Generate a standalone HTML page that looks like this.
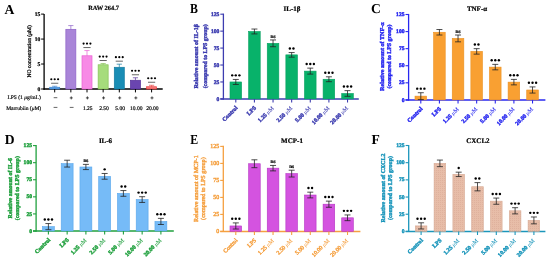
<!DOCTYPE html>
<html><head><meta charset="utf-8"><style>
html,body{margin:0;padding:0;background:#fff;}
body{width:550px;height:262px;overflow:hidden;}
svg{display:block;font-family:"Liberation Serif", serif;text-rendering:geometricPrecision;will-change:transform;filter:blur(0.25px);}
</style></head><body>
<svg width="550" height="262" viewBox="0 0 550 262">
<defs><pattern id="pf" width="2" height="2" patternUnits="userSpaceOnUse"><rect width="2" height="2" fill="#e7bda8"/><rect width="1" height="1" fill="#dfb19d"/></pattern></defs>
<rect width="550" height="262" fill="#fff"/>
<text x="4.50" y="14.10" font-size="13.6" font-weight="bold" fill="#000" text-anchor="start">A</text>
<text x="103.60" y="9.70" font-size="6.4" font-weight="bold" fill="#000" text-anchor="middle" stroke="#000" stroke-width="0.17">RAW 264.7</text>
<line x1="44.10" y1="14.10" x2="44.10" y2="89.70" stroke="#000" stroke-width="1.3" stroke-linecap="butt"/>
<line x1="43.50" y1="89.00" x2="162.70" y2="89.00" stroke="#000" stroke-width="1.4" stroke-linecap="butt"/>
<line x1="41.10" y1="89.00" x2="44.10" y2="89.00" stroke="#000" stroke-width="1.0" stroke-linecap="butt"/>
<text x="40.30" y="91.30" font-size="5.6" font-weight="bold" fill="#000" text-anchor="end" stroke="#000" stroke-width="0.21">0</text>
<line x1="41.10" y1="64.03" x2="44.10" y2="64.03" stroke="#000" stroke-width="1.0" stroke-linecap="butt"/>
<text x="40.30" y="66.33" font-size="5.6" font-weight="bold" fill="#000" text-anchor="end" stroke="#000" stroke-width="0.21">5</text>
<line x1="41.10" y1="39.07" x2="44.10" y2="39.07" stroke="#000" stroke-width="1.0" stroke-linecap="butt"/>
<text x="40.30" y="41.37" font-size="5.6" font-weight="bold" fill="#000" text-anchor="end" stroke="#000" stroke-width="0.21">10</text>
<line x1="41.10" y1="14.10" x2="44.10" y2="14.10" stroke="#000" stroke-width="1.0" stroke-linecap="butt"/>
<text x="40.30" y="16.40" font-size="5.6" font-weight="bold" fill="#000" text-anchor="end" stroke="#000" stroke-width="0.21">15</text>
<text x="30.70" y="51.40" font-size="5.55" font-weight="normal" fill="#000" text-anchor="middle" stroke="#000" stroke-width="0.28" transform="rotate(-90 30.70 51.40)">NO concentration (<tspan font-style="italic">μ</tspan>M)</text>
<rect x="49.70" y="87.25" width="10.00" height="1.75" fill="#5aa2e6" stroke="#3a82d0" stroke-width="0.7"/>
<line x1="54.70" y1="86.25" x2="54.70" y2="87.25" stroke="#3a82d0" stroke-width="0.7" stroke-linecap="butt"/>
<line x1="52.10" y1="86.25" x2="57.30" y2="86.25" stroke="#3a82d0" stroke-width="0.7" stroke-linecap="butt"/>
<line x1="54.70" y1="89.00" x2="54.70" y2="92.40" stroke="#000" stroke-width="1.0" stroke-linecap="butt"/>
<circle cx="51.30" cy="79.25" r="1.1" fill="#000"/>
<circle cx="54.70" cy="79.25" r="1.1" fill="#000"/>
<circle cx="58.10" cy="79.25" r="1.1" fill="#000"/>
<line x1="51.10" y1="83.25" x2="58.30" y2="83.25" stroke="#555" stroke-width="0.9" stroke-linecap="butt"/>
<rect x="65.85" y="29.33" width="10.00" height="59.67" fill="#a985d8" stroke="#8c62c8" stroke-width="0.7"/>
<line x1="70.85" y1="25.58" x2="70.85" y2="29.33" stroke="#8c62c8" stroke-width="0.7" stroke-linecap="butt"/>
<line x1="68.25" y1="25.58" x2="73.45" y2="25.58" stroke="#8c62c8" stroke-width="0.7" stroke-linecap="butt"/>
<line x1="70.85" y1="89.00" x2="70.85" y2="92.40" stroke="#000" stroke-width="1.0" stroke-linecap="butt"/>
<rect x="82.00" y="55.79" width="10.00" height="33.21" fill="#f78ae6" stroke="#e860d2" stroke-width="0.7"/>
<line x1="87.00" y1="50.55" x2="87.00" y2="55.79" stroke="#e860d2" stroke-width="0.7" stroke-linecap="butt"/>
<line x1="84.40" y1="50.55" x2="89.60" y2="50.55" stroke="#e860d2" stroke-width="0.7" stroke-linecap="butt"/>
<line x1="87.00" y1="89.00" x2="87.00" y2="92.40" stroke="#000" stroke-width="1.0" stroke-linecap="butt"/>
<circle cx="83.60" cy="43.55" r="1.1" fill="#000"/>
<circle cx="87.00" cy="43.55" r="1.1" fill="#000"/>
<circle cx="90.40" cy="43.55" r="1.1" fill="#000"/>
<line x1="83.40" y1="47.55" x2="90.60" y2="47.55" stroke="#555" stroke-width="0.9" stroke-linecap="butt"/>
<rect x="98.15" y="64.78" width="10.00" height="24.22" fill="#a6dc7c" stroke="#86c256" stroke-width="0.7"/>
<line x1="103.15" y1="63.53" x2="103.15" y2="64.78" stroke="#86c256" stroke-width="0.7" stroke-linecap="butt"/>
<line x1="100.55" y1="63.53" x2="105.75" y2="63.53" stroke="#86c256" stroke-width="0.7" stroke-linecap="butt"/>
<line x1="103.15" y1="89.00" x2="103.15" y2="92.40" stroke="#000" stroke-width="1.0" stroke-linecap="butt"/>
<circle cx="99.75" cy="56.53" r="1.1" fill="#000"/>
<circle cx="103.15" cy="56.53" r="1.1" fill="#000"/>
<circle cx="106.55" cy="56.53" r="1.1" fill="#000"/>
<line x1="99.55" y1="60.53" x2="106.75" y2="60.53" stroke="#555" stroke-width="0.9" stroke-linecap="butt"/>
<rect x="114.30" y="67.28" width="10.00" height="21.72" fill="#1a8db5" stroke="#137aa0" stroke-width="0.7"/>
<line x1="119.30" y1="64.18" x2="119.30" y2="67.28" stroke="#137aa0" stroke-width="0.7" stroke-linecap="butt"/>
<line x1="116.70" y1="64.18" x2="121.90" y2="64.18" stroke="#137aa0" stroke-width="0.7" stroke-linecap="butt"/>
<line x1="119.30" y1="89.00" x2="119.30" y2="92.40" stroke="#000" stroke-width="1.0" stroke-linecap="butt"/>
<circle cx="115.90" cy="57.18" r="1.1" fill="#000"/>
<circle cx="119.30" cy="57.18" r="1.1" fill="#000"/>
<circle cx="122.70" cy="57.18" r="1.1" fill="#000"/>
<line x1="115.70" y1="61.18" x2="122.90" y2="61.18" stroke="#555" stroke-width="0.9" stroke-linecap="butt"/>
<rect x="130.45" y="80.26" width="10.00" height="8.74" fill="#6a45b0" stroke="#55309a" stroke-width="0.7"/>
<line x1="135.45" y1="77.77" x2="135.45" y2="80.26" stroke="#55309a" stroke-width="0.7" stroke-linecap="butt"/>
<line x1="132.85" y1="77.77" x2="138.05" y2="77.77" stroke="#55309a" stroke-width="0.7" stroke-linecap="butt"/>
<line x1="135.45" y1="89.00" x2="135.45" y2="92.40" stroke="#000" stroke-width="1.0" stroke-linecap="butt"/>
<circle cx="132.05" cy="70.77" r="1.1" fill="#000"/>
<circle cx="135.45" cy="70.77" r="1.1" fill="#000"/>
<circle cx="138.85" cy="70.77" r="1.1" fill="#000"/>
<line x1="131.85" y1="74.77" x2="139.05" y2="74.77" stroke="#555" stroke-width="0.9" stroke-linecap="butt"/>
<rect x="146.60" y="86.75" width="10.00" height="2.25" fill="#f77a7a" stroke="#e84040" stroke-width="0.7"/>
<line x1="151.60" y1="85.25" x2="151.60" y2="86.75" stroke="#e84040" stroke-width="0.7" stroke-linecap="butt"/>
<line x1="149.00" y1="85.25" x2="154.20" y2="85.25" stroke="#e84040" stroke-width="0.7" stroke-linecap="butt"/>
<line x1="151.60" y1="89.00" x2="151.60" y2="92.40" stroke="#000" stroke-width="1.0" stroke-linecap="butt"/>
<circle cx="148.20" cy="78.25" r="1.1" fill="#000"/>
<circle cx="151.60" cy="78.25" r="1.1" fill="#000"/>
<circle cx="155.00" cy="78.25" r="1.1" fill="#000"/>
<line x1="148.00" y1="82.25" x2="155.20" y2="82.25" stroke="#555" stroke-width="0.9" stroke-linecap="butt"/>
<text x="7.40" y="99.10" font-size="5.5" font-weight="normal" fill="#000" text-anchor="start" stroke="#000" stroke-width="0.17">LPS (1 <tspan font-style="italic">μ</tspan>g/mL)</text>
<text x="6.20" y="110.10" font-size="5.5" font-weight="normal" fill="#000" text-anchor="start" stroke="#000" stroke-width="0.17">Marrubiin (<tspan font-style="italic">μ</tspan>M)</text>
<line x1="53.70" y1="97.70" x2="57.30" y2="97.70" stroke="#333" stroke-width="0.75" stroke-linecap="butt"/>
<line x1="53.60" y1="107.40" x2="57.40" y2="107.40" stroke="#333" stroke-width="0.75" stroke-linecap="butt"/>
<line x1="69.75" y1="97.90" x2="72.75" y2="97.90" stroke="#222" stroke-width="0.8" stroke-linecap="butt"/>
<line x1="71.25" y1="96.40" x2="71.25" y2="99.40" stroke="#222" stroke-width="0.8" stroke-linecap="butt"/>
<line x1="69.75" y1="107.40" x2="73.55" y2="107.40" stroke="#333" stroke-width="0.75" stroke-linecap="butt"/>
<line x1="85.90" y1="97.90" x2="88.90" y2="97.90" stroke="#222" stroke-width="0.8" stroke-linecap="butt"/>
<line x1="87.40" y1="96.40" x2="87.40" y2="99.40" stroke="#222" stroke-width="0.8" stroke-linecap="butt"/>
<text x="87.80" y="109.80" font-size="5.5" font-weight="normal" fill="#000" text-anchor="middle" stroke="#000" stroke-width="0.17">1.25</text>
<line x1="102.05" y1="97.90" x2="105.05" y2="97.90" stroke="#222" stroke-width="0.8" stroke-linecap="butt"/>
<line x1="103.55" y1="96.40" x2="103.55" y2="99.40" stroke="#222" stroke-width="0.8" stroke-linecap="butt"/>
<text x="103.95" y="109.80" font-size="5.5" font-weight="normal" fill="#000" text-anchor="middle" stroke="#000" stroke-width="0.17">2.50</text>
<line x1="118.20" y1="97.90" x2="121.20" y2="97.90" stroke="#222" stroke-width="0.8" stroke-linecap="butt"/>
<line x1="119.70" y1="96.40" x2="119.70" y2="99.40" stroke="#222" stroke-width="0.8" stroke-linecap="butt"/>
<text x="120.10" y="109.80" font-size="5.5" font-weight="normal" fill="#000" text-anchor="middle" stroke="#000" stroke-width="0.17">5.00</text>
<line x1="134.35" y1="97.90" x2="137.35" y2="97.90" stroke="#222" stroke-width="0.8" stroke-linecap="butt"/>
<line x1="135.85" y1="96.40" x2="135.85" y2="99.40" stroke="#222" stroke-width="0.8" stroke-linecap="butt"/>
<text x="136.25" y="109.80" font-size="5.5" font-weight="normal" fill="#000" text-anchor="middle" stroke="#000" stroke-width="0.17">10.00</text>
<line x1="150.50" y1="97.90" x2="153.50" y2="97.90" stroke="#222" stroke-width="0.8" stroke-linecap="butt"/>
<line x1="152.00" y1="96.40" x2="152.00" y2="99.40" stroke="#222" stroke-width="0.8" stroke-linecap="butt"/>
<text x="152.40" y="109.80" font-size="5.5" font-weight="normal" fill="#000" text-anchor="middle" stroke="#000" stroke-width="0.17">20.00</text>
<text x="190.00" y="13.35" font-size="13.6" font-weight="bold" fill="#000" text-anchor="start" textLength="7.9" lengthAdjust="spacingAndGlyphs">B</text>
<text x="292.00" y="11.00" font-size="7.0" font-weight="bold" fill="#000" text-anchor="middle" stroke="#000" stroke-width="0.21">IL-1β</text>
<line x1="223.40" y1="13.60" x2="223.40" y2="99.60" stroke="#3d3db0" stroke-width="1.3" stroke-linecap="butt"/>
<line x1="220.30" y1="98.90" x2="358.80" y2="98.90" stroke="#3d3db0" stroke-width="1.5" stroke-linecap="butt"/>
<line x1="220.30" y1="98.90" x2="223.40" y2="98.90" stroke="#3d3db0" stroke-width="1.1" stroke-linecap="butt"/>
<text x="219.30" y="100.50" font-size="5.6" font-weight="bold" fill="#3d3db0" text-anchor="end" stroke="#3d3db0" stroke-width="0.42">0</text>
<line x1="220.30" y1="81.96" x2="223.40" y2="81.96" stroke="#3d3db0" stroke-width="1.1" stroke-linecap="butt"/>
<text x="219.30" y="83.56" font-size="5.6" font-weight="bold" fill="#3d3db0" text-anchor="end" stroke="#3d3db0" stroke-width="0.42">25</text>
<line x1="220.30" y1="65.02" x2="223.40" y2="65.02" stroke="#3d3db0" stroke-width="1.1" stroke-linecap="butt"/>
<text x="219.30" y="66.62" font-size="5.6" font-weight="bold" fill="#3d3db0" text-anchor="end" stroke="#3d3db0" stroke-width="0.42">50</text>
<line x1="220.30" y1="48.08" x2="223.40" y2="48.08" stroke="#3d3db0" stroke-width="1.1" stroke-linecap="butt"/>
<text x="219.30" y="49.68" font-size="5.6" font-weight="bold" fill="#3d3db0" text-anchor="end" stroke="#3d3db0" stroke-width="0.42">75</text>
<line x1="220.30" y1="31.14" x2="223.40" y2="31.14" stroke="#3d3db0" stroke-width="1.1" stroke-linecap="butt"/>
<text x="219.30" y="32.74" font-size="5.6" font-weight="bold" fill="#3d3db0" text-anchor="end" stroke="#3d3db0" stroke-width="0.42">100</text>
<line x1="220.30" y1="14.20" x2="223.40" y2="14.20" stroke="#3d3db0" stroke-width="1.1" stroke-linecap="butt"/>
<text x="219.30" y="15.80" font-size="5.6" font-weight="bold" fill="#3d3db0" text-anchor="end" stroke="#3d3db0" stroke-width="0.42">125</text>
<text x="198.40" y="56.30" font-size="5.9" font-weight="bold" fill="#3d3db0" text-anchor="middle" stroke="#3d3db0" stroke-width="0.42" textLength="64.6" lengthAdjust="spacingAndGlyphs" transform="rotate(-90 198.40 56.30)">Relative amount of IL-1β</text>
<text x="206.60" y="56.30" font-size="5.9" font-weight="bold" fill="#3d3db0" text-anchor="middle" stroke="#3d3db0" stroke-width="0.42" transform="rotate(-90 206.60 56.30)">(compared to LPS group)</text>
<rect x="230.00" y="81.96" width="11.60" height="16.94" fill="#08b26a" stroke="#06a060" stroke-width="0.6"/>
<line x1="235.80" y1="79.45" x2="235.80" y2="84.47" stroke="#222" stroke-width="0.8" stroke-linecap="butt"/>
<line x1="232.80" y1="79.45" x2="238.80" y2="79.45" stroke="#222" stroke-width="0.8" stroke-linecap="butt"/>
<line x1="232.80" y1="84.47" x2="238.80" y2="84.47" stroke="#222" stroke-width="0.8" stroke-linecap="butt"/>
<line x1="235.80" y1="98.90" x2="235.80" y2="102.50" stroke="#3d3db0" stroke-width="1.1" stroke-linecap="butt"/>
<circle cx="232.20" cy="75.35" r="1.2" fill="#000"/>
<circle cx="235.80" cy="75.35" r="1.2" fill="#000"/>
<circle cx="239.40" cy="75.35" r="1.2" fill="#000"/>
<text x="238.00" y="108.20" font-size="5.8" font-weight="bold" fill="#3d3db0" text-anchor="end" stroke="#3d3db0" stroke-width="0.42" transform="rotate(-45 238.00 108.20)">Control</text>
<rect x="248.62" y="31.48" width="11.60" height="67.42" fill="#08b26a" stroke="#06a060" stroke-width="0.6"/>
<line x1="254.42" y1="29.04" x2="254.42" y2="33.92" stroke="#222" stroke-width="0.8" stroke-linecap="butt"/>
<line x1="251.42" y1="29.04" x2="257.42" y2="29.04" stroke="#222" stroke-width="0.8" stroke-linecap="butt"/>
<line x1="251.42" y1="33.92" x2="257.42" y2="33.92" stroke="#222" stroke-width="0.8" stroke-linecap="butt"/>
<line x1="254.42" y1="98.90" x2="254.42" y2="102.50" stroke="#3d3db0" stroke-width="1.1" stroke-linecap="butt"/>
<text x="256.62" y="108.20" font-size="5.8" font-weight="bold" fill="#3d3db0" text-anchor="end" stroke="#3d3db0" stroke-width="0.42" transform="rotate(-45 256.62 108.20)">LPS</text>
<rect x="267.24" y="43.34" width="11.60" height="55.56" fill="#08b26a" stroke="#06a060" stroke-width="0.6"/>
<line x1="273.04" y1="39.95" x2="273.04" y2="46.72" stroke="#222" stroke-width="0.8" stroke-linecap="butt"/>
<line x1="270.04" y1="39.95" x2="276.04" y2="39.95" stroke="#222" stroke-width="0.8" stroke-linecap="butt"/>
<line x1="270.04" y1="46.72" x2="276.04" y2="46.72" stroke="#222" stroke-width="0.8" stroke-linecap="butt"/>
<line x1="273.04" y1="98.90" x2="273.04" y2="102.50" stroke="#3d3db0" stroke-width="1.1" stroke-linecap="butt"/>
<text x="273.04" y="37.65" font-size="5.3" font-weight="bold" fill="#000" text-anchor="middle" stroke="#000" stroke-width="0.21">ns</text>
<text x="274.04" y="108.70" font-size="5.8" font-weight="bold" fill="#3d3db0" text-anchor="end" stroke="#3d3db0" stroke-width="0.42" transform="rotate(-45 274.04 108.70)">1.25 <tspan font-style="italic" font-weight="normal" stroke-width="0">μ</tspan><tspan font-weight="normal" stroke-width="0.1">M</tspan></text>
<rect x="285.86" y="54.86" width="11.60" height="44.04" fill="#08b26a" stroke="#06a060" stroke-width="0.6"/>
<line x1="291.66" y1="52.55" x2="291.66" y2="57.16" stroke="#222" stroke-width="0.8" stroke-linecap="butt"/>
<line x1="288.66" y1="52.55" x2="294.66" y2="52.55" stroke="#222" stroke-width="0.8" stroke-linecap="butt"/>
<line x1="288.66" y1="57.16" x2="294.66" y2="57.16" stroke="#222" stroke-width="0.8" stroke-linecap="butt"/>
<line x1="291.66" y1="98.90" x2="291.66" y2="102.50" stroke="#3d3db0" stroke-width="1.1" stroke-linecap="butt"/>
<circle cx="289.86" cy="48.45" r="1.2" fill="#000"/>
<circle cx="293.46" cy="48.45" r="1.2" fill="#000"/>
<text x="292.66" y="108.70" font-size="5.8" font-weight="bold" fill="#3d3db0" text-anchor="end" stroke="#3d3db0" stroke-width="0.42" transform="rotate(-45 292.66 108.70)">2.50 <tspan font-style="italic" font-weight="normal" stroke-width="0">μ</tspan><tspan font-weight="normal" stroke-width="0.1">M</tspan></text>
<rect x="304.48" y="71.12" width="11.60" height="27.78" fill="#08b26a" stroke="#06a060" stroke-width="0.6"/>
<line x1="310.28" y1="68.14" x2="310.28" y2="74.10" stroke="#222" stroke-width="0.8" stroke-linecap="butt"/>
<line x1="307.28" y1="68.14" x2="313.28" y2="68.14" stroke="#222" stroke-width="0.8" stroke-linecap="butt"/>
<line x1="307.28" y1="74.10" x2="313.28" y2="74.10" stroke="#222" stroke-width="0.8" stroke-linecap="butt"/>
<line x1="310.28" y1="98.90" x2="310.28" y2="102.50" stroke="#3d3db0" stroke-width="1.1" stroke-linecap="butt"/>
<circle cx="306.68" cy="64.04" r="1.2" fill="#000"/>
<circle cx="310.28" cy="64.04" r="1.2" fill="#000"/>
<circle cx="313.88" cy="64.04" r="1.2" fill="#000"/>
<text x="311.28" y="108.70" font-size="5.8" font-weight="bold" fill="#3d3db0" text-anchor="end" stroke="#3d3db0" stroke-width="0.42" transform="rotate(-45 311.28 108.70)">5.00 <tspan font-style="italic" font-weight="normal" stroke-width="0">μ</tspan><tspan font-weight="normal" stroke-width="0.1">M</tspan></text>
<rect x="323.10" y="79.25" width="11.60" height="19.65" fill="#08b26a" stroke="#06a060" stroke-width="0.6"/>
<line x1="328.90" y1="76.81" x2="328.90" y2="81.69" stroke="#222" stroke-width="0.8" stroke-linecap="butt"/>
<line x1="325.90" y1="76.81" x2="331.90" y2="76.81" stroke="#222" stroke-width="0.8" stroke-linecap="butt"/>
<line x1="325.90" y1="81.69" x2="331.90" y2="81.69" stroke="#222" stroke-width="0.8" stroke-linecap="butt"/>
<line x1="328.90" y1="98.90" x2="328.90" y2="102.50" stroke="#3d3db0" stroke-width="1.1" stroke-linecap="butt"/>
<circle cx="325.30" cy="72.71" r="1.2" fill="#000"/>
<circle cx="328.90" cy="72.71" r="1.2" fill="#000"/>
<circle cx="332.50" cy="72.71" r="1.2" fill="#000"/>
<text x="329.90" y="108.70" font-size="5.8" font-weight="bold" fill="#3d3db0" text-anchor="end" stroke="#3d3db0" stroke-width="0.42" transform="rotate(-45 329.90 108.70)">10.00 <tspan font-style="italic" font-weight="normal" stroke-width="0">μ</tspan><tspan font-weight="normal" stroke-width="0.1">M</tspan></text>
<rect x="341.72" y="93.48" width="11.60" height="5.42" fill="#08b26a" stroke="#06a060" stroke-width="0.6"/>
<line x1="347.52" y1="90.63" x2="347.52" y2="96.33" stroke="#222" stroke-width="0.8" stroke-linecap="butt"/>
<line x1="344.52" y1="90.63" x2="350.52" y2="90.63" stroke="#222" stroke-width="0.8" stroke-linecap="butt"/>
<line x1="344.52" y1="96.33" x2="350.52" y2="96.33" stroke="#222" stroke-width="0.8" stroke-linecap="butt"/>
<line x1="347.52" y1="98.90" x2="347.52" y2="102.50" stroke="#3d3db0" stroke-width="1.1" stroke-linecap="butt"/>
<circle cx="343.92" cy="86.53" r="1.2" fill="#000"/>
<circle cx="347.52" cy="86.53" r="1.2" fill="#000"/>
<circle cx="351.12" cy="86.53" r="1.2" fill="#000"/>
<text x="348.52" y="108.70" font-size="5.8" font-weight="bold" fill="#3d3db0" text-anchor="end" stroke="#3d3db0" stroke-width="0.42" transform="rotate(-45 348.52 108.70)">20.00 <tspan font-style="italic" font-weight="normal" stroke-width="0">μ</tspan><tspan font-weight="normal" stroke-width="0.1">M</tspan></text>
<text x="371.00" y="13.15" font-size="13.6" font-weight="bold" fill="#000" text-anchor="start">C</text>
<text x="477.00" y="11.00" font-size="7.0" font-weight="bold" fill="#000" text-anchor="middle" stroke="#000" stroke-width="0.21">TNF-α</text>
<line x1="408.60" y1="13.90" x2="408.60" y2="100.60" stroke="#2828f0" stroke-width="1.3" stroke-linecap="butt"/>
<line x1="405.50" y1="99.90" x2="545.40" y2="99.90" stroke="#2828f0" stroke-width="1.5" stroke-linecap="butt"/>
<line x1="405.50" y1="99.90" x2="408.60" y2="99.90" stroke="#2828f0" stroke-width="1.1" stroke-linecap="butt"/>
<text x="404.50" y="101.50" font-size="5.6" font-weight="bold" fill="#2828f0" text-anchor="end" stroke="#2828f0" stroke-width="0.42">0</text>
<line x1="405.50" y1="82.82" x2="408.60" y2="82.82" stroke="#2828f0" stroke-width="1.1" stroke-linecap="butt"/>
<text x="404.50" y="84.42" font-size="5.6" font-weight="bold" fill="#2828f0" text-anchor="end" stroke="#2828f0" stroke-width="0.42">25</text>
<line x1="405.50" y1="65.74" x2="408.60" y2="65.74" stroke="#2828f0" stroke-width="1.1" stroke-linecap="butt"/>
<text x="404.50" y="67.34" font-size="5.6" font-weight="bold" fill="#2828f0" text-anchor="end" stroke="#2828f0" stroke-width="0.42">50</text>
<line x1="405.50" y1="48.66" x2="408.60" y2="48.66" stroke="#2828f0" stroke-width="1.1" stroke-linecap="butt"/>
<text x="404.50" y="50.26" font-size="5.6" font-weight="bold" fill="#2828f0" text-anchor="end" stroke="#2828f0" stroke-width="0.42">75</text>
<line x1="405.50" y1="31.58" x2="408.60" y2="31.58" stroke="#2828f0" stroke-width="1.1" stroke-linecap="butt"/>
<text x="404.50" y="33.18" font-size="5.6" font-weight="bold" fill="#2828f0" text-anchor="end" stroke="#2828f0" stroke-width="0.42">100</text>
<line x1="405.50" y1="14.50" x2="408.60" y2="14.50" stroke="#2828f0" stroke-width="1.1" stroke-linecap="butt"/>
<text x="404.50" y="16.10" font-size="5.6" font-weight="bold" fill="#2828f0" text-anchor="end" stroke="#2828f0" stroke-width="0.42">125</text>
<text x="383.70" y="56.60" font-size="5.9" font-weight="bold" fill="#2828f0" text-anchor="middle" stroke="#2828f0" stroke-width="0.42" textLength="68.6" lengthAdjust="spacingAndGlyphs" transform="rotate(-90 383.70 56.60)">Relative amount of TNF-α</text>
<text x="390.70" y="56.50" font-size="5.9" font-weight="bold" fill="#2828f0" text-anchor="middle" stroke="#2828f0" stroke-width="0.42" transform="rotate(-90 390.70 56.50)">(compared to LPS group)</text>
<rect x="415.00" y="96.14" width="11.60" height="3.76" fill="#f9a032" stroke="#eb9020" stroke-width="0.6"/>
<line x1="420.80" y1="92.73" x2="420.80" y2="99.56" stroke="#222" stroke-width="0.8" stroke-linecap="butt"/>
<line x1="417.80" y1="92.73" x2="423.80" y2="92.73" stroke="#222" stroke-width="0.8" stroke-linecap="butt"/>
<line x1="417.80" y1="99.56" x2="423.80" y2="99.56" stroke="#222" stroke-width="0.8" stroke-linecap="butt"/>
<line x1="420.80" y1="99.90" x2="420.80" y2="103.50" stroke="#2828f0" stroke-width="1.1" stroke-linecap="butt"/>
<circle cx="417.20" cy="88.63" r="1.2" fill="#000"/>
<circle cx="420.80" cy="88.63" r="1.2" fill="#000"/>
<circle cx="424.40" cy="88.63" r="1.2" fill="#000"/>
<text x="423.00" y="109.20" font-size="5.8" font-weight="bold" fill="#2828f0" text-anchor="end" stroke="#2828f0" stroke-width="0.42" transform="rotate(-45 423.00 109.20)">Control</text>
<rect x="433.62" y="32.26" width="11.60" height="67.64" fill="#f9a032" stroke="#eb9020" stroke-width="0.6"/>
<line x1="439.42" y1="29.53" x2="439.42" y2="35.00" stroke="#222" stroke-width="0.8" stroke-linecap="butt"/>
<line x1="436.42" y1="29.53" x2="442.42" y2="29.53" stroke="#222" stroke-width="0.8" stroke-linecap="butt"/>
<line x1="436.42" y1="35.00" x2="442.42" y2="35.00" stroke="#222" stroke-width="0.8" stroke-linecap="butt"/>
<line x1="439.42" y1="99.90" x2="439.42" y2="103.50" stroke="#2828f0" stroke-width="1.1" stroke-linecap="butt"/>
<text x="441.62" y="109.20" font-size="5.8" font-weight="bold" fill="#2828f0" text-anchor="end" stroke="#2828f0" stroke-width="0.42" transform="rotate(-45 441.62 109.20)">LPS</text>
<rect x="452.24" y="38.41" width="11.60" height="61.49" fill="#f9a032" stroke="#eb9020" stroke-width="0.6"/>
<line x1="458.04" y1="35.00" x2="458.04" y2="41.83" stroke="#222" stroke-width="0.8" stroke-linecap="butt"/>
<line x1="455.04" y1="35.00" x2="461.04" y2="35.00" stroke="#222" stroke-width="0.8" stroke-linecap="butt"/>
<line x1="455.04" y1="41.83" x2="461.04" y2="41.83" stroke="#222" stroke-width="0.8" stroke-linecap="butt"/>
<line x1="458.04" y1="99.90" x2="458.04" y2="103.50" stroke="#2828f0" stroke-width="1.1" stroke-linecap="butt"/>
<text x="458.04" y="32.70" font-size="5.3" font-weight="bold" fill="#000" text-anchor="middle" stroke="#000" stroke-width="0.21">ns</text>
<text x="459.04" y="109.70" font-size="5.8" font-weight="bold" fill="#2828f0" text-anchor="end" stroke="#2828f0" stroke-width="0.42" transform="rotate(-45 459.04 109.70)">1.25 <tspan font-style="italic" font-weight="normal" stroke-width="0">μ</tspan><tspan font-weight="normal" stroke-width="0.1">M</tspan></text>
<rect x="470.86" y="51.39" width="11.60" height="48.51" fill="#f9a032" stroke="#eb9020" stroke-width="0.6"/>
<line x1="476.66" y1="48.66" x2="476.66" y2="54.13" stroke="#222" stroke-width="0.8" stroke-linecap="butt"/>
<line x1="473.66" y1="48.66" x2="479.66" y2="48.66" stroke="#222" stroke-width="0.8" stroke-linecap="butt"/>
<line x1="473.66" y1="54.13" x2="479.66" y2="54.13" stroke="#222" stroke-width="0.8" stroke-linecap="butt"/>
<line x1="476.66" y1="99.90" x2="476.66" y2="103.50" stroke="#2828f0" stroke-width="1.1" stroke-linecap="butt"/>
<circle cx="474.86" cy="44.56" r="1.2" fill="#000"/>
<circle cx="478.46" cy="44.56" r="1.2" fill="#000"/>
<text x="477.66" y="109.70" font-size="5.8" font-weight="bold" fill="#2828f0" text-anchor="end" stroke="#2828f0" stroke-width="0.42" transform="rotate(-45 477.66 109.70)">2.50 <tspan font-style="italic" font-weight="normal" stroke-width="0">μ</tspan><tspan font-weight="normal" stroke-width="0.1">M</tspan></text>
<rect x="489.48" y="67.11" width="11.60" height="32.79" fill="#f9a032" stroke="#eb9020" stroke-width="0.6"/>
<line x1="495.28" y1="64.37" x2="495.28" y2="69.84" stroke="#222" stroke-width="0.8" stroke-linecap="butt"/>
<line x1="492.28" y1="64.37" x2="498.28" y2="64.37" stroke="#222" stroke-width="0.8" stroke-linecap="butt"/>
<line x1="492.28" y1="69.84" x2="498.28" y2="69.84" stroke="#222" stroke-width="0.8" stroke-linecap="butt"/>
<line x1="495.28" y1="99.90" x2="495.28" y2="103.50" stroke="#2828f0" stroke-width="1.1" stroke-linecap="butt"/>
<circle cx="491.68" cy="60.27" r="1.2" fill="#000"/>
<circle cx="495.28" cy="60.27" r="1.2" fill="#000"/>
<circle cx="498.88" cy="60.27" r="1.2" fill="#000"/>
<text x="496.28" y="109.70" font-size="5.8" font-weight="bold" fill="#2828f0" text-anchor="end" stroke="#2828f0" stroke-width="0.42" transform="rotate(-45 496.28 109.70)">5.00 <tspan font-style="italic" font-weight="normal" stroke-width="0">μ</tspan><tspan font-weight="normal" stroke-width="0.1">M</tspan></text>
<rect x="508.10" y="82.14" width="11.60" height="17.76" fill="#f9a032" stroke="#eb9020" stroke-width="0.6"/>
<line x1="513.90" y1="79.40" x2="513.90" y2="84.87" stroke="#222" stroke-width="0.8" stroke-linecap="butt"/>
<line x1="510.90" y1="79.40" x2="516.90" y2="79.40" stroke="#222" stroke-width="0.8" stroke-linecap="butt"/>
<line x1="510.90" y1="84.87" x2="516.90" y2="84.87" stroke="#222" stroke-width="0.8" stroke-linecap="butt"/>
<line x1="513.90" y1="99.90" x2="513.90" y2="103.50" stroke="#2828f0" stroke-width="1.1" stroke-linecap="butt"/>
<circle cx="510.30" cy="75.30" r="1.2" fill="#000"/>
<circle cx="513.90" cy="75.30" r="1.2" fill="#000"/>
<circle cx="517.50" cy="75.30" r="1.2" fill="#000"/>
<text x="514.90" y="109.70" font-size="5.8" font-weight="bold" fill="#2828f0" text-anchor="end" stroke="#2828f0" stroke-width="0.42" transform="rotate(-45 514.90 109.70)">10.00 <tspan font-style="italic" font-weight="normal" stroke-width="0">μ</tspan><tspan font-weight="normal" stroke-width="0.1">M</tspan></text>
<rect x="526.72" y="89.99" width="11.60" height="9.91" fill="#f9a032" stroke="#eb9020" stroke-width="0.6"/>
<line x1="532.52" y1="86.92" x2="532.52" y2="93.07" stroke="#222" stroke-width="0.8" stroke-linecap="butt"/>
<line x1="529.52" y1="86.92" x2="535.52" y2="86.92" stroke="#222" stroke-width="0.8" stroke-linecap="butt"/>
<line x1="529.52" y1="93.07" x2="535.52" y2="93.07" stroke="#222" stroke-width="0.8" stroke-linecap="butt"/>
<line x1="532.52" y1="99.90" x2="532.52" y2="103.50" stroke="#2828f0" stroke-width="1.1" stroke-linecap="butt"/>
<circle cx="528.92" cy="82.82" r="1.2" fill="#000"/>
<circle cx="532.52" cy="82.82" r="1.2" fill="#000"/>
<circle cx="536.12" cy="82.82" r="1.2" fill="#000"/>
<text x="533.52" y="109.70" font-size="5.8" font-weight="bold" fill="#2828f0" text-anchor="end" stroke="#2828f0" stroke-width="0.42" transform="rotate(-45 533.52 109.70)">20.00 <tspan font-style="italic" font-weight="normal" stroke-width="0">μ</tspan><tspan font-weight="normal" stroke-width="0.1">M</tspan></text>
<text x="4.80" y="143.90" font-size="13.6" font-weight="bold" fill="#000" text-anchor="start">D</text>
<text x="105.50" y="142.50" font-size="7.0" font-weight="bold" fill="#000" text-anchor="middle" stroke="#000" stroke-width="0.21">IL-6</text>
<line x1="36.10" y1="145.00" x2="36.10" y2="231.70" stroke="#20a03e" stroke-width="1.3" stroke-linecap="butt"/>
<line x1="33.00" y1="231.00" x2="173.80" y2="231.00" stroke="#20a03e" stroke-width="1.5" stroke-linecap="butt"/>
<line x1="33.00" y1="231.00" x2="36.10" y2="231.00" stroke="#20a03e" stroke-width="1.1" stroke-linecap="butt"/>
<text x="32.00" y="232.60" font-size="5.6" font-weight="bold" fill="#20a03e" text-anchor="end" stroke="#20a03e" stroke-width="0.42">0</text>
<line x1="33.00" y1="213.92" x2="36.10" y2="213.92" stroke="#20a03e" stroke-width="1.1" stroke-linecap="butt"/>
<text x="32.00" y="215.52" font-size="5.6" font-weight="bold" fill="#20a03e" text-anchor="end" stroke="#20a03e" stroke-width="0.42">25</text>
<line x1="33.00" y1="196.84" x2="36.10" y2="196.84" stroke="#20a03e" stroke-width="1.1" stroke-linecap="butt"/>
<text x="32.00" y="198.44" font-size="5.6" font-weight="bold" fill="#20a03e" text-anchor="end" stroke="#20a03e" stroke-width="0.42">50</text>
<line x1="33.00" y1="179.76" x2="36.10" y2="179.76" stroke="#20a03e" stroke-width="1.1" stroke-linecap="butt"/>
<text x="32.00" y="181.36" font-size="5.6" font-weight="bold" fill="#20a03e" text-anchor="end" stroke="#20a03e" stroke-width="0.42">75</text>
<line x1="33.00" y1="162.68" x2="36.10" y2="162.68" stroke="#20a03e" stroke-width="1.1" stroke-linecap="butt"/>
<text x="32.00" y="164.28" font-size="5.6" font-weight="bold" fill="#20a03e" text-anchor="end" stroke="#20a03e" stroke-width="0.42">100</text>
<line x1="33.00" y1="145.60" x2="36.10" y2="145.60" stroke="#20a03e" stroke-width="1.1" stroke-linecap="butt"/>
<text x="32.00" y="147.20" font-size="5.6" font-weight="bold" fill="#20a03e" text-anchor="end" stroke="#20a03e" stroke-width="0.42">125</text>
<text x="11.60" y="188.20" font-size="5.9" font-weight="bold" fill="#20a03e" text-anchor="middle" stroke="#20a03e" stroke-width="0.42" transform="rotate(-90 11.60 188.20)">Relative amount of IL-6</text>
<text x="18.70" y="188.20" font-size="5.9" font-weight="bold" fill="#20a03e" text-anchor="middle" stroke="#20a03e" stroke-width="0.42" transform="rotate(-90 18.70 188.20)">(compared to LPS group)</text>
<rect x="42.45" y="226.63" width="11.90" height="4.37" fill="#76bbf7" stroke="#58a6ec" stroke-width="0.6"/>
<line x1="48.40" y1="223.55" x2="48.40" y2="229.70" stroke="#222" stroke-width="0.8" stroke-linecap="butt"/>
<line x1="45.40" y1="223.55" x2="51.40" y2="223.55" stroke="#222" stroke-width="0.8" stroke-linecap="butt"/>
<line x1="45.40" y1="229.70" x2="51.40" y2="229.70" stroke="#222" stroke-width="0.8" stroke-linecap="butt"/>
<line x1="48.40" y1="231.00" x2="48.40" y2="234.60" stroke="#20a03e" stroke-width="1.1" stroke-linecap="butt"/>
<circle cx="44.80" cy="219.45" r="1.2" fill="#000"/>
<circle cx="48.40" cy="219.45" r="1.2" fill="#000"/>
<circle cx="52.00" cy="219.45" r="1.2" fill="#000"/>
<text x="50.60" y="240.30" font-size="5.8" font-weight="bold" fill="#20a03e" text-anchor="end" stroke="#20a03e" stroke-width="0.42" transform="rotate(-45 50.60 240.30)">Control</text>
<rect x="61.20" y="163.64" width="11.90" height="67.36" fill="#76bbf7" stroke="#58a6ec" stroke-width="0.6"/>
<line x1="67.15" y1="160.22" x2="67.15" y2="167.05" stroke="#222" stroke-width="0.8" stroke-linecap="butt"/>
<line x1="64.15" y1="160.22" x2="70.15" y2="160.22" stroke="#222" stroke-width="0.8" stroke-linecap="butt"/>
<line x1="64.15" y1="167.05" x2="70.15" y2="167.05" stroke="#222" stroke-width="0.8" stroke-linecap="butt"/>
<line x1="67.15" y1="231.00" x2="67.15" y2="234.60" stroke="#20a03e" stroke-width="1.1" stroke-linecap="butt"/>
<text x="69.35" y="240.30" font-size="5.8" font-weight="bold" fill="#20a03e" text-anchor="end" stroke="#20a03e" stroke-width="0.42" transform="rotate(-45 69.35 240.30)">LPS</text>
<rect x="79.95" y="166.98" width="11.90" height="64.02" fill="#76bbf7" stroke="#58a6ec" stroke-width="0.6"/>
<line x1="85.90" y1="164.39" x2="85.90" y2="169.58" stroke="#222" stroke-width="0.8" stroke-linecap="butt"/>
<line x1="82.90" y1="164.39" x2="88.90" y2="164.39" stroke="#222" stroke-width="0.8" stroke-linecap="butt"/>
<line x1="82.90" y1="169.58" x2="88.90" y2="169.58" stroke="#222" stroke-width="0.8" stroke-linecap="butt"/>
<line x1="85.90" y1="231.00" x2="85.90" y2="234.60" stroke="#20a03e" stroke-width="1.1" stroke-linecap="butt"/>
<text x="85.90" y="162.09" font-size="5.3" font-weight="bold" fill="#000" text-anchor="middle" stroke="#000" stroke-width="0.21">ns</text>
<text x="86.90" y="240.80" font-size="5.8" font-weight="bold" fill="#20a03e" text-anchor="end" stroke="#20a03e" stroke-width="0.42" transform="rotate(-45 86.90 240.80)">1.25 <tspan font-style="italic" font-weight="normal" stroke-width="0">μ</tspan><tspan font-weight="normal" stroke-width="0.1">M</tspan></text>
<rect x="98.70" y="176.34" width="11.90" height="54.66" fill="#76bbf7" stroke="#58a6ec" stroke-width="0.6"/>
<line x1="104.65" y1="173.47" x2="104.65" y2="179.21" stroke="#222" stroke-width="0.8" stroke-linecap="butt"/>
<line x1="101.65" y1="173.47" x2="107.65" y2="173.47" stroke="#222" stroke-width="0.8" stroke-linecap="butt"/>
<line x1="101.65" y1="179.21" x2="107.65" y2="179.21" stroke="#222" stroke-width="0.8" stroke-linecap="butt"/>
<line x1="104.65" y1="231.00" x2="104.65" y2="234.60" stroke="#20a03e" stroke-width="1.1" stroke-linecap="butt"/>
<circle cx="104.65" cy="169.37" r="1.2" fill="#000"/>
<text x="105.65" y="240.80" font-size="5.8" font-weight="bold" fill="#20a03e" text-anchor="end" stroke="#20a03e" stroke-width="0.42" transform="rotate(-45 105.65 240.80)">2.50 <tspan font-style="italic" font-weight="normal" stroke-width="0">μ</tspan><tspan font-weight="normal" stroke-width="0.1">M</tspan></text>
<rect x="117.45" y="193.42" width="11.90" height="37.58" fill="#76bbf7" stroke="#58a6ec" stroke-width="0.6"/>
<line x1="123.40" y1="190.55" x2="123.40" y2="196.29" stroke="#222" stroke-width="0.8" stroke-linecap="butt"/>
<line x1="120.40" y1="190.55" x2="126.40" y2="190.55" stroke="#222" stroke-width="0.8" stroke-linecap="butt"/>
<line x1="120.40" y1="196.29" x2="126.40" y2="196.29" stroke="#222" stroke-width="0.8" stroke-linecap="butt"/>
<line x1="123.40" y1="231.00" x2="123.40" y2="234.60" stroke="#20a03e" stroke-width="1.1" stroke-linecap="butt"/>
<circle cx="121.60" cy="186.45" r="1.2" fill="#000"/>
<circle cx="125.20" cy="186.45" r="1.2" fill="#000"/>
<text x="124.40" y="240.80" font-size="5.8" font-weight="bold" fill="#20a03e" text-anchor="end" stroke="#20a03e" stroke-width="0.42" transform="rotate(-45 124.40 240.80)">5.00 <tspan font-style="italic" font-weight="normal" stroke-width="0">μ</tspan><tspan font-weight="normal" stroke-width="0.1">M</tspan></text>
<rect x="136.20" y="199.57" width="11.90" height="31.43" fill="#76bbf7" stroke="#58a6ec" stroke-width="0.6"/>
<line x1="142.15" y1="196.70" x2="142.15" y2="202.44" stroke="#222" stroke-width="0.8" stroke-linecap="butt"/>
<line x1="139.15" y1="196.70" x2="145.15" y2="196.70" stroke="#222" stroke-width="0.8" stroke-linecap="butt"/>
<line x1="139.15" y1="202.44" x2="145.15" y2="202.44" stroke="#222" stroke-width="0.8" stroke-linecap="butt"/>
<line x1="142.15" y1="231.00" x2="142.15" y2="234.60" stroke="#20a03e" stroke-width="1.1" stroke-linecap="butt"/>
<circle cx="138.55" cy="192.60" r="1.2" fill="#000"/>
<circle cx="142.15" cy="192.60" r="1.2" fill="#000"/>
<circle cx="145.75" cy="192.60" r="1.2" fill="#000"/>
<text x="143.15" y="240.80" font-size="5.8" font-weight="bold" fill="#20a03e" text-anchor="end" stroke="#20a03e" stroke-width="0.42" transform="rotate(-45 143.15 240.80)">10.00 <tspan font-style="italic" font-weight="normal" stroke-width="0">μ</tspan><tspan font-weight="normal" stroke-width="0.1">M</tspan></text>
<rect x="154.95" y="221.44" width="11.90" height="9.56" fill="#76bbf7" stroke="#58a6ec" stroke-width="0.6"/>
<line x1="160.90" y1="218.36" x2="160.90" y2="224.51" stroke="#222" stroke-width="0.8" stroke-linecap="butt"/>
<line x1="157.90" y1="218.36" x2="163.90" y2="218.36" stroke="#222" stroke-width="0.8" stroke-linecap="butt"/>
<line x1="157.90" y1="224.51" x2="163.90" y2="224.51" stroke="#222" stroke-width="0.8" stroke-linecap="butt"/>
<line x1="160.90" y1="231.00" x2="160.90" y2="234.60" stroke="#20a03e" stroke-width="1.1" stroke-linecap="butt"/>
<circle cx="157.30" cy="214.26" r="1.2" fill="#000"/>
<circle cx="160.90" cy="214.26" r="1.2" fill="#000"/>
<circle cx="164.50" cy="214.26" r="1.2" fill="#000"/>
<text x="161.90" y="240.80" font-size="5.8" font-weight="bold" fill="#20a03e" text-anchor="end" stroke="#20a03e" stroke-width="0.42" transform="rotate(-45 161.90 240.80)">20.00 <tspan font-style="italic" font-weight="normal" stroke-width="0">μ</tspan><tspan font-weight="normal" stroke-width="0.1">M</tspan></text>
<text x="190.30" y="143.90" font-size="13.6" font-weight="bold" fill="#000" text-anchor="start" textLength="7.9" lengthAdjust="spacingAndGlyphs">E</text>
<text x="292.00" y="142.50" font-size="7.0" font-weight="bold" fill="#000" text-anchor="middle" stroke="#000" stroke-width="0.21">MCP-1</text>
<line x1="223.30" y1="145.80" x2="223.30" y2="232.10" stroke="#f5a040" stroke-width="1.3" stroke-linecap="butt"/>
<line x1="220.20" y1="231.40" x2="360.40" y2="231.40" stroke="#f5a040" stroke-width="1.5" stroke-linecap="butt"/>
<line x1="220.20" y1="231.40" x2="223.30" y2="231.40" stroke="#f5a040" stroke-width="1.1" stroke-linecap="butt"/>
<text x="219.20" y="233.14" font-size="6.0" font-weight="normal" fill="#f5a040" text-anchor="end" stroke="#f5a040" stroke-width="0.42">0</text>
<line x1="220.20" y1="214.40" x2="223.30" y2="214.40" stroke="#f5a040" stroke-width="1.1" stroke-linecap="butt"/>
<text x="219.20" y="216.14" font-size="6.0" font-weight="normal" fill="#f5a040" text-anchor="end" stroke="#f5a040" stroke-width="0.42">25</text>
<line x1="220.20" y1="197.40" x2="223.30" y2="197.40" stroke="#f5a040" stroke-width="1.1" stroke-linecap="butt"/>
<text x="219.20" y="199.14" font-size="6.0" font-weight="normal" fill="#f5a040" text-anchor="end" stroke="#f5a040" stroke-width="0.42">50</text>
<line x1="220.20" y1="180.40" x2="223.30" y2="180.40" stroke="#f5a040" stroke-width="1.1" stroke-linecap="butt"/>
<text x="219.20" y="182.14" font-size="6.0" font-weight="normal" fill="#f5a040" text-anchor="end" stroke="#f5a040" stroke-width="0.42">75</text>
<line x1="220.20" y1="163.40" x2="223.30" y2="163.40" stroke="#f5a040" stroke-width="1.1" stroke-linecap="butt"/>
<text x="219.20" y="165.14" font-size="6.0" font-weight="normal" fill="#f5a040" text-anchor="end" stroke="#f5a040" stroke-width="0.42">100</text>
<line x1="220.20" y1="146.40" x2="223.30" y2="146.40" stroke="#f5a040" stroke-width="1.1" stroke-linecap="butt"/>
<text x="219.20" y="148.14" font-size="6.0" font-weight="normal" fill="#f5a040" text-anchor="end" stroke="#f5a040" stroke-width="0.42">125</text>
<text x="197.90" y="188.60" font-size="6.15" font-weight="normal" fill="#f5a040" text-anchor="middle" stroke="#f5a040" stroke-width="0.42" transform="rotate(-90 197.90 188.60)">Relative amount of MCP-1</text>
<text x="205.30" y="188.60" font-size="6.15" font-weight="normal" fill="#f5a040" text-anchor="middle" stroke="#f5a040" stroke-width="0.42" transform="rotate(-90 205.30 188.60)">(compared to LPS group)</text>
<rect x="230.00" y="225.96" width="11.60" height="5.44" fill="#d453e0" stroke="#b535c4" stroke-width="0.6"/>
<line x1="235.80" y1="222.90" x2="235.80" y2="229.02" stroke="#222" stroke-width="0.8" stroke-linecap="butt"/>
<line x1="232.80" y1="222.90" x2="238.80" y2="222.90" stroke="#222" stroke-width="0.8" stroke-linecap="butt"/>
<line x1="232.80" y1="229.02" x2="238.80" y2="229.02" stroke="#222" stroke-width="0.8" stroke-linecap="butt"/>
<line x1="235.80" y1="231.40" x2="235.80" y2="235.00" stroke="#f5a040" stroke-width="1.1" stroke-linecap="butt"/>
<circle cx="232.20" cy="218.80" r="1.2" fill="#000"/>
<circle cx="235.80" cy="218.80" r="1.2" fill="#000"/>
<circle cx="239.40" cy="218.80" r="1.2" fill="#000"/>
<text x="238.00" y="240.70" font-size="5.8" font-weight="normal" fill="#f5a040" text-anchor="end" stroke="#f5a040" stroke-width="0.42" transform="rotate(-45 238.00 240.70)">Control</text>
<rect x="248.62" y="163.74" width="11.60" height="67.66" fill="#d453e0" stroke="#b535c4" stroke-width="0.6"/>
<line x1="254.42" y1="159.80" x2="254.42" y2="167.68" stroke="#222" stroke-width="0.8" stroke-linecap="butt"/>
<line x1="251.42" y1="159.80" x2="257.42" y2="159.80" stroke="#222" stroke-width="0.8" stroke-linecap="butt"/>
<line x1="251.42" y1="167.68" x2="257.42" y2="167.68" stroke="#222" stroke-width="0.8" stroke-linecap="butt"/>
<line x1="254.42" y1="231.40" x2="254.42" y2="235.00" stroke="#f5a040" stroke-width="1.1" stroke-linecap="butt"/>
<text x="256.62" y="240.70" font-size="5.8" font-weight="normal" fill="#f5a040" text-anchor="end" stroke="#f5a040" stroke-width="0.42" transform="rotate(-45 256.62 240.70)">LPS</text>
<rect x="267.24" y="168.16" width="11.60" height="63.24" fill="#d453e0" stroke="#b535c4" stroke-width="0.6"/>
<line x1="273.04" y1="165.44" x2="273.04" y2="170.88" stroke="#222" stroke-width="0.8" stroke-linecap="butt"/>
<line x1="270.04" y1="165.44" x2="276.04" y2="165.44" stroke="#222" stroke-width="0.8" stroke-linecap="butt"/>
<line x1="270.04" y1="170.88" x2="276.04" y2="170.88" stroke="#222" stroke-width="0.8" stroke-linecap="butt"/>
<line x1="273.04" y1="231.40" x2="273.04" y2="235.00" stroke="#f5a040" stroke-width="1.1" stroke-linecap="butt"/>
<text x="273.04" y="163.14" font-size="5.3" font-weight="bold" fill="#000" text-anchor="middle" stroke="#000" stroke-width="0.21">ns</text>
<text x="274.04" y="241.20" font-size="5.8" font-weight="normal" fill="#f5a040" text-anchor="end" stroke="#f5a040" stroke-width="0.42" transform="rotate(-45 274.04 241.20)">1.25 <tspan font-style="italic" font-weight="normal" stroke-width="0">μ</tspan><tspan font-weight="normal" stroke-width="0.1">M</tspan></text>
<rect x="285.86" y="173.60" width="11.60" height="57.80" fill="#d453e0" stroke="#b535c4" stroke-width="0.6"/>
<line x1="291.66" y1="170.20" x2="291.66" y2="177.00" stroke="#222" stroke-width="0.8" stroke-linecap="butt"/>
<line x1="288.66" y1="170.20" x2="294.66" y2="170.20" stroke="#222" stroke-width="0.8" stroke-linecap="butt"/>
<line x1="288.66" y1="177.00" x2="294.66" y2="177.00" stroke="#222" stroke-width="0.8" stroke-linecap="butt"/>
<line x1="291.66" y1="231.40" x2="291.66" y2="235.00" stroke="#f5a040" stroke-width="1.1" stroke-linecap="butt"/>
<text x="291.66" y="167.90" font-size="5.3" font-weight="bold" fill="#000" text-anchor="middle" stroke="#000" stroke-width="0.21">ns</text>
<text x="292.66" y="241.20" font-size="5.8" font-weight="normal" fill="#f5a040" text-anchor="end" stroke="#f5a040" stroke-width="0.42" transform="rotate(-45 292.66 241.20)">2.50 <tspan font-style="italic" font-weight="normal" stroke-width="0">μ</tspan><tspan font-weight="normal" stroke-width="0.1">M</tspan></text>
<rect x="304.48" y="195.02" width="11.60" height="36.38" fill="#d453e0" stroke="#b535c4" stroke-width="0.6"/>
<line x1="310.28" y1="192.16" x2="310.28" y2="197.88" stroke="#222" stroke-width="0.8" stroke-linecap="butt"/>
<line x1="307.28" y1="192.16" x2="313.28" y2="192.16" stroke="#222" stroke-width="0.8" stroke-linecap="butt"/>
<line x1="307.28" y1="197.88" x2="313.28" y2="197.88" stroke="#222" stroke-width="0.8" stroke-linecap="butt"/>
<line x1="310.28" y1="231.40" x2="310.28" y2="235.00" stroke="#f5a040" stroke-width="1.1" stroke-linecap="butt"/>
<circle cx="308.48" cy="188.06" r="1.2" fill="#000"/>
<circle cx="312.08" cy="188.06" r="1.2" fill="#000"/>
<text x="311.28" y="241.20" font-size="5.8" font-weight="normal" fill="#f5a040" text-anchor="end" stroke="#f5a040" stroke-width="0.42" transform="rotate(-45 311.28 241.20)">5.00 <tspan font-style="italic" font-weight="normal" stroke-width="0">μ</tspan><tspan font-weight="normal" stroke-width="0.1">M</tspan></text>
<rect x="323.10" y="204.20" width="11.60" height="27.20" fill="#d453e0" stroke="#b535c4" stroke-width="0.6"/>
<line x1="328.90" y1="201.14" x2="328.90" y2="207.26" stroke="#222" stroke-width="0.8" stroke-linecap="butt"/>
<line x1="325.90" y1="201.14" x2="331.90" y2="201.14" stroke="#222" stroke-width="0.8" stroke-linecap="butt"/>
<line x1="325.90" y1="207.26" x2="331.90" y2="207.26" stroke="#222" stroke-width="0.8" stroke-linecap="butt"/>
<line x1="328.90" y1="231.40" x2="328.90" y2="235.00" stroke="#f5a040" stroke-width="1.1" stroke-linecap="butt"/>
<circle cx="325.30" cy="197.04" r="1.2" fill="#000"/>
<circle cx="328.90" cy="197.04" r="1.2" fill="#000"/>
<circle cx="332.50" cy="197.04" r="1.2" fill="#000"/>
<text x="329.90" y="241.20" font-size="5.8" font-weight="normal" fill="#f5a040" text-anchor="end" stroke="#f5a040" stroke-width="0.42" transform="rotate(-45 329.90 241.20)">10.00 <tspan font-style="italic" font-weight="normal" stroke-width="0">μ</tspan><tspan font-weight="normal" stroke-width="0.1">M</tspan></text>
<rect x="341.72" y="217.80" width="11.60" height="13.60" fill="#d453e0" stroke="#b535c4" stroke-width="0.6"/>
<line x1="347.52" y1="214.94" x2="347.52" y2="220.66" stroke="#222" stroke-width="0.8" stroke-linecap="butt"/>
<line x1="344.52" y1="214.94" x2="350.52" y2="214.94" stroke="#222" stroke-width="0.8" stroke-linecap="butt"/>
<line x1="344.52" y1="220.66" x2="350.52" y2="220.66" stroke="#222" stroke-width="0.8" stroke-linecap="butt"/>
<line x1="347.52" y1="231.40" x2="347.52" y2="235.00" stroke="#f5a040" stroke-width="1.1" stroke-linecap="butt"/>
<circle cx="343.92" cy="210.84" r="1.2" fill="#000"/>
<circle cx="347.52" cy="210.84" r="1.2" fill="#000"/>
<circle cx="351.12" cy="210.84" r="1.2" fill="#000"/>
<text x="348.52" y="241.20" font-size="5.8" font-weight="normal" fill="#f5a040" text-anchor="end" stroke="#f5a040" stroke-width="0.42" transform="rotate(-45 348.52 241.20)">20.00 <tspan font-style="italic" font-weight="normal" stroke-width="0">μ</tspan><tspan font-weight="normal" stroke-width="0.1">M</tspan></text>
<text x="371.50" y="143.90" font-size="13.6" font-weight="bold" fill="#000" text-anchor="start">F</text>
<text x="477.90" y="142.50" font-size="7.0" font-weight="bold" fill="#000" text-anchor="middle" stroke="#000" stroke-width="0.21">CXCL2</text>
<line x1="408.70" y1="144.90" x2="408.70" y2="232.10" stroke="#1b96bb" stroke-width="1.3" stroke-linecap="butt"/>
<line x1="405.60" y1="231.40" x2="545.40" y2="231.40" stroke="#1b96bb" stroke-width="1.5" stroke-linecap="butt"/>
<line x1="405.60" y1="231.40" x2="408.70" y2="231.40" stroke="#1b96bb" stroke-width="1.1" stroke-linecap="butt"/>
<text x="404.60" y="233.00" font-size="5.6" font-weight="bold" fill="#1b96bb" text-anchor="end" stroke="#1b96bb" stroke-width="0.42">0</text>
<line x1="405.60" y1="214.22" x2="408.70" y2="214.22" stroke="#1b96bb" stroke-width="1.1" stroke-linecap="butt"/>
<text x="404.60" y="215.82" font-size="5.6" font-weight="bold" fill="#1b96bb" text-anchor="end" stroke="#1b96bb" stroke-width="0.42">25</text>
<line x1="405.60" y1="197.04" x2="408.70" y2="197.04" stroke="#1b96bb" stroke-width="1.1" stroke-linecap="butt"/>
<text x="404.60" y="198.64" font-size="5.6" font-weight="bold" fill="#1b96bb" text-anchor="end" stroke="#1b96bb" stroke-width="0.42">50</text>
<line x1="405.60" y1="179.86" x2="408.70" y2="179.86" stroke="#1b96bb" stroke-width="1.1" stroke-linecap="butt"/>
<text x="404.60" y="181.46" font-size="5.6" font-weight="bold" fill="#1b96bb" text-anchor="end" stroke="#1b96bb" stroke-width="0.42">75</text>
<line x1="405.60" y1="162.68" x2="408.70" y2="162.68" stroke="#1b96bb" stroke-width="1.1" stroke-linecap="butt"/>
<text x="404.60" y="164.28" font-size="5.6" font-weight="bold" fill="#1b96bb" text-anchor="end" stroke="#1b96bb" stroke-width="0.42">100</text>
<line x1="405.60" y1="145.50" x2="408.70" y2="145.50" stroke="#1b96bb" stroke-width="1.1" stroke-linecap="butt"/>
<text x="404.60" y="147.10" font-size="5.6" font-weight="bold" fill="#1b96bb" text-anchor="end" stroke="#1b96bb" stroke-width="0.42">125</text>
<text x="384.80" y="188.00" font-size="5.9" font-weight="bold" fill="#1b96bb" text-anchor="middle" stroke="#1b96bb" stroke-width="0.42" transform="rotate(-90 384.80 188.00)">Relative amount of CXCL2</text>
<text x="391.70" y="188.00" font-size="5.9" font-weight="bold" fill="#1b96bb" text-anchor="middle" stroke="#1b96bb" stroke-width="0.42" transform="rotate(-90 391.70 188.00)">(compared to LPS group)</text>
<rect x="415.30" y="225.90" width="11.60" height="5.50" fill="url(#pf)" stroke="#d8aa94" stroke-width="0.6"/>
<line x1="421.10" y1="222.81" x2="421.10" y2="228.99" stroke="#222" stroke-width="0.8" stroke-linecap="butt"/>
<line x1="418.10" y1="222.81" x2="424.10" y2="222.81" stroke="#222" stroke-width="0.8" stroke-linecap="butt"/>
<line x1="418.10" y1="228.99" x2="424.10" y2="228.99" stroke="#222" stroke-width="0.8" stroke-linecap="butt"/>
<line x1="421.10" y1="231.40" x2="421.10" y2="235.00" stroke="#1b96bb" stroke-width="1.1" stroke-linecap="butt"/>
<circle cx="417.50" cy="218.71" r="1.2" fill="#000"/>
<circle cx="421.10" cy="218.71" r="1.2" fill="#000"/>
<circle cx="424.70" cy="218.71" r="1.2" fill="#000"/>
<text x="423.30" y="240.70" font-size="5.8" font-weight="bold" fill="#1b96bb" text-anchor="end" stroke="#1b96bb" stroke-width="0.42" transform="rotate(-45 423.30 240.70)">Control</text>
<rect x="434.10" y="163.37" width="11.60" height="68.03" fill="url(#pf)" stroke="#d8aa94" stroke-width="0.6"/>
<line x1="439.90" y1="160.07" x2="439.90" y2="166.67" stroke="#222" stroke-width="0.8" stroke-linecap="butt"/>
<line x1="436.90" y1="160.07" x2="442.90" y2="160.07" stroke="#222" stroke-width="0.8" stroke-linecap="butt"/>
<line x1="436.90" y1="166.67" x2="442.90" y2="166.67" stroke="#222" stroke-width="0.8" stroke-linecap="butt"/>
<line x1="439.90" y1="231.40" x2="439.90" y2="235.00" stroke="#1b96bb" stroke-width="1.1" stroke-linecap="butt"/>
<text x="442.10" y="240.70" font-size="5.8" font-weight="bold" fill="#1b96bb" text-anchor="end" stroke="#1b96bb" stroke-width="0.42" transform="rotate(-45 442.10 240.70)">LPS</text>
<rect x="452.90" y="174.36" width="11.60" height="57.04" fill="url(#pf)" stroke="#d8aa94" stroke-width="0.6"/>
<line x1="458.70" y1="172.16" x2="458.70" y2="176.56" stroke="#222" stroke-width="0.8" stroke-linecap="butt"/>
<line x1="455.70" y1="172.16" x2="461.70" y2="172.16" stroke="#222" stroke-width="0.8" stroke-linecap="butt"/>
<line x1="455.70" y1="176.56" x2="461.70" y2="176.56" stroke="#222" stroke-width="0.8" stroke-linecap="butt"/>
<line x1="458.70" y1="231.40" x2="458.70" y2="235.00" stroke="#1b96bb" stroke-width="1.1" stroke-linecap="butt"/>
<circle cx="458.70" cy="168.06" r="1.2" fill="#000"/>
<text x="459.70" y="241.20" font-size="5.8" font-weight="bold" fill="#1b96bb" text-anchor="end" stroke="#1b96bb" stroke-width="0.42" transform="rotate(-45 459.70 241.20)">1.25 <tspan font-style="italic" font-weight="normal" stroke-width="0">μ</tspan><tspan font-weight="normal" stroke-width="0.1">M</tspan></text>
<rect x="471.70" y="186.73" width="11.60" height="44.67" fill="url(#pf)" stroke="#d8aa94" stroke-width="0.6"/>
<line x1="477.50" y1="182.61" x2="477.50" y2="190.86" stroke="#222" stroke-width="0.8" stroke-linecap="butt"/>
<line x1="474.50" y1="182.61" x2="480.50" y2="182.61" stroke="#222" stroke-width="0.8" stroke-linecap="butt"/>
<line x1="474.50" y1="190.86" x2="480.50" y2="190.86" stroke="#222" stroke-width="0.8" stroke-linecap="butt"/>
<line x1="477.50" y1="231.40" x2="477.50" y2="235.00" stroke="#1b96bb" stroke-width="1.1" stroke-linecap="butt"/>
<circle cx="475.70" cy="178.51" r="1.2" fill="#000"/>
<circle cx="479.30" cy="178.51" r="1.2" fill="#000"/>
<text x="478.50" y="241.20" font-size="5.8" font-weight="bold" fill="#1b96bb" text-anchor="end" stroke="#1b96bb" stroke-width="0.42" transform="rotate(-45 478.50 241.20)">2.50 <tspan font-style="italic" font-weight="normal" stroke-width="0">μ</tspan><tspan font-weight="normal" stroke-width="0.1">M</tspan></text>
<rect x="490.50" y="201.16" width="11.60" height="30.24" fill="url(#pf)" stroke="#d8aa94" stroke-width="0.6"/>
<line x1="496.30" y1="198.07" x2="496.30" y2="204.26" stroke="#222" stroke-width="0.8" stroke-linecap="butt"/>
<line x1="493.30" y1="198.07" x2="499.30" y2="198.07" stroke="#222" stroke-width="0.8" stroke-linecap="butt"/>
<line x1="493.30" y1="204.26" x2="499.30" y2="204.26" stroke="#222" stroke-width="0.8" stroke-linecap="butt"/>
<line x1="496.30" y1="231.40" x2="496.30" y2="235.00" stroke="#1b96bb" stroke-width="1.1" stroke-linecap="butt"/>
<circle cx="492.70" cy="193.97" r="1.2" fill="#000"/>
<circle cx="496.30" cy="193.97" r="1.2" fill="#000"/>
<circle cx="499.90" cy="193.97" r="1.2" fill="#000"/>
<text x="497.30" y="241.20" font-size="5.8" font-weight="bold" fill="#1b96bb" text-anchor="end" stroke="#1b96bb" stroke-width="0.42" transform="rotate(-45 497.30 241.20)">5.00 <tspan font-style="italic" font-weight="normal" stroke-width="0">μ</tspan><tspan font-weight="normal" stroke-width="0.1">M</tspan></text>
<rect x="509.30" y="210.78" width="11.60" height="20.62" fill="url(#pf)" stroke="#d8aa94" stroke-width="0.6"/>
<line x1="515.10" y1="207.69" x2="515.10" y2="213.88" stroke="#222" stroke-width="0.8" stroke-linecap="butt"/>
<line x1="512.10" y1="207.69" x2="518.10" y2="207.69" stroke="#222" stroke-width="0.8" stroke-linecap="butt"/>
<line x1="512.10" y1="213.88" x2="518.10" y2="213.88" stroke="#222" stroke-width="0.8" stroke-linecap="butt"/>
<line x1="515.10" y1="231.40" x2="515.10" y2="235.00" stroke="#1b96bb" stroke-width="1.1" stroke-linecap="butt"/>
<circle cx="511.50" cy="203.59" r="1.2" fill="#000"/>
<circle cx="515.10" cy="203.59" r="1.2" fill="#000"/>
<circle cx="518.70" cy="203.59" r="1.2" fill="#000"/>
<text x="516.10" y="241.20" font-size="5.8" font-weight="bold" fill="#1b96bb" text-anchor="end" stroke="#1b96bb" stroke-width="0.42" transform="rotate(-45 516.10 241.20)">10.00 <tspan font-style="italic" font-weight="normal" stroke-width="0">μ</tspan><tspan font-weight="normal" stroke-width="0.1">M</tspan></text>
<rect x="528.10" y="220.40" width="11.60" height="11.00" fill="url(#pf)" stroke="#d8aa94" stroke-width="0.6"/>
<line x1="533.90" y1="216.97" x2="533.90" y2="223.84" stroke="#222" stroke-width="0.8" stroke-linecap="butt"/>
<line x1="530.90" y1="216.97" x2="536.90" y2="216.97" stroke="#222" stroke-width="0.8" stroke-linecap="butt"/>
<line x1="530.90" y1="223.84" x2="536.90" y2="223.84" stroke="#222" stroke-width="0.8" stroke-linecap="butt"/>
<line x1="533.90" y1="231.40" x2="533.90" y2="235.00" stroke="#1b96bb" stroke-width="1.1" stroke-linecap="butt"/>
<circle cx="530.30" cy="212.87" r="1.2" fill="#000"/>
<circle cx="533.90" cy="212.87" r="1.2" fill="#000"/>
<circle cx="537.50" cy="212.87" r="1.2" fill="#000"/>
<text x="534.90" y="241.20" font-size="5.8" font-weight="bold" fill="#1b96bb" text-anchor="end" stroke="#1b96bb" stroke-width="0.42" transform="rotate(-45 534.90 241.20)">20.00 <tspan font-style="italic" font-weight="normal" stroke-width="0">μ</tspan><tspan font-weight="normal" stroke-width="0.1">M</tspan></text>
</svg>
</body></html>
